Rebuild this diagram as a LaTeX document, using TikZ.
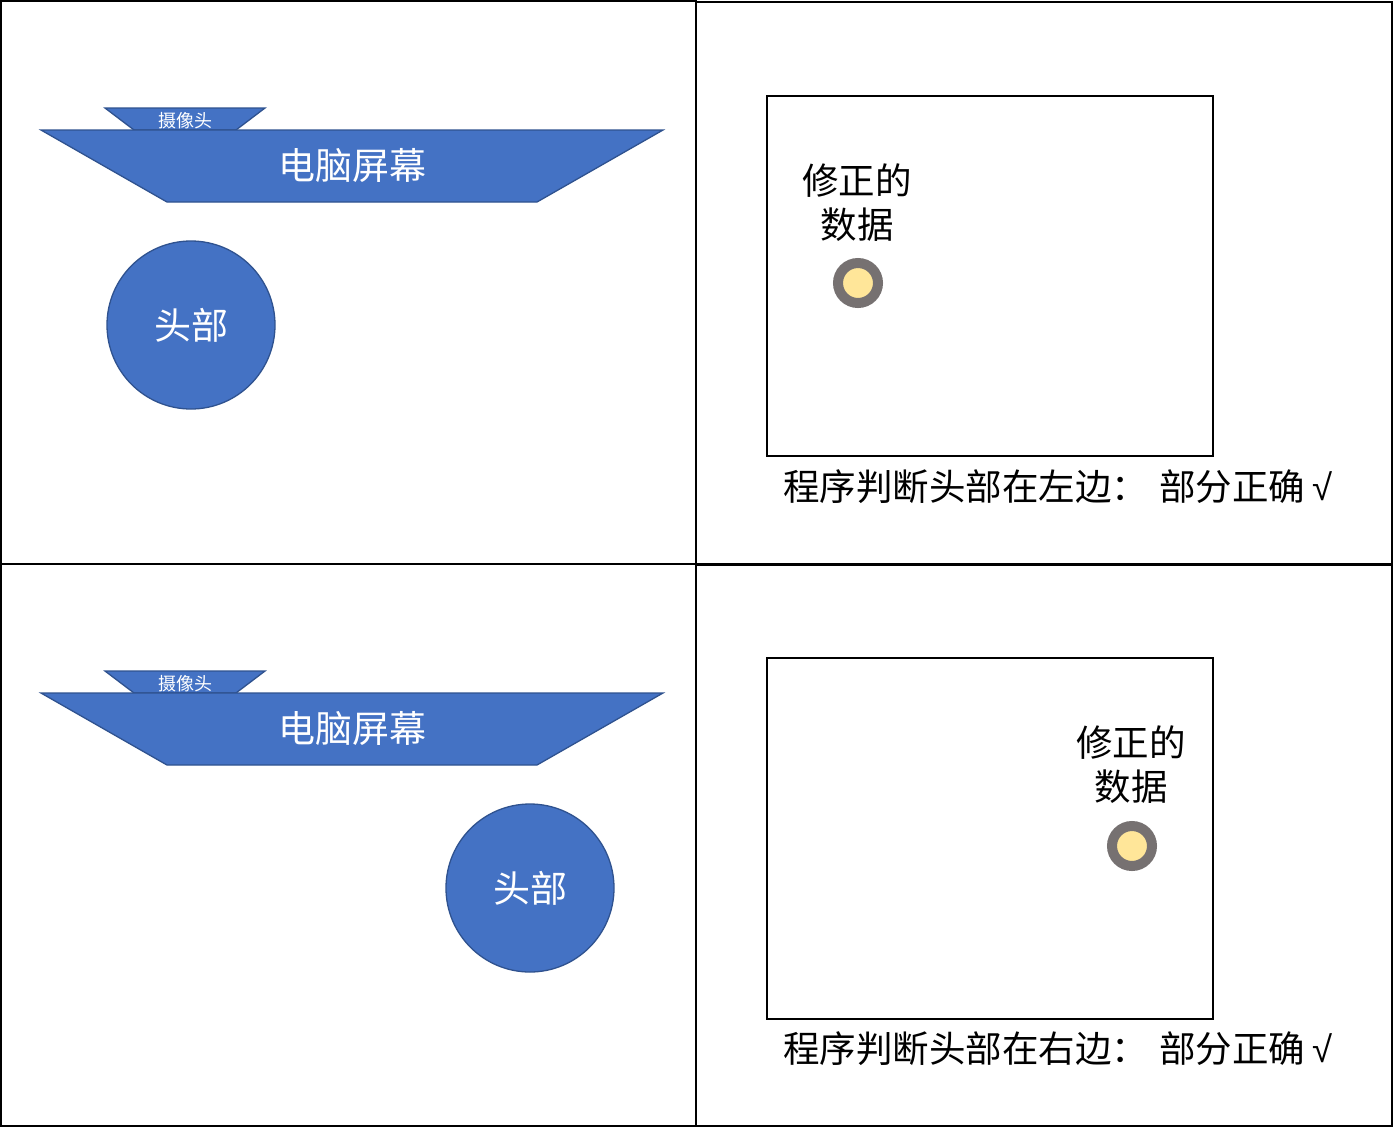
\documentclass[tikz,border=0pt]{standalone}
\usepackage{fontspec}
\setmainfont{Noto Sans CJK SC}
\newfontfamily\symfont{Liberation Sans}
\begin{document}
\begin{tikzpicture}[x=1pt,y=-1pt,
  shapeblue/.style={fill={rgb,255:red,68;green,114;blue,196},draw={rgb,255:red,47;green,82;blue,143},line width=1.3pt},
  bigtxt/.style={text=white,font=\fontsize{37}{40}\selectfont,inner sep=0pt},
  smalltxt/.style={text=white,font=\fontsize{18}{20}\selectfont,inner sep=0pt},
  blacktxt/.style={text=black,font=\fontsize{36.5}{44}\selectfont,inner sep=0pt,align=center},
  frame/.style={draw=black,line width=2pt},
  dotmark/.style={circle,minimum size=40pt,inner sep=0pt,fill={rgb,255:red,255;green,230;blue,153},draw={rgb,255:red,118;green,113;blue,113},line width=10pt}
]
\useasboundingbox (0,0) rectangle (1393,1128);
\fill[white] (0,0) rectangle (1393,1128);
% grid
\draw[frame] (1,1) rectangle (696,564);
\draw[frame] (696,2) rectangle (1392,564);
\draw[frame] (1,564) rectangle (696,1126);
\draw[frame] (696,565) rectangle (1392,1126);

% top-left
\draw[shapeblue] (105,108) -- (265,108) -- (236,130) -- (134,130) -- cycle;
\node[smalltxt] (cam1) at (185,121) {摄像头};
\draw[shapeblue] (41,130) -- (663,130) -- (537,202) -- (167,202) -- cycle;
\node[bigtxt] (scr1) at (352,166) {电脑屏幕};
\node[shapeblue,circle,minimum size=168pt,inner sep=0pt] (head1) at (191,325) {};
\node[bigtxt] (headt1) at (191,325) {头部};

% bottom-left
\draw[shapeblue] (105,671) -- (265,671) -- (236,693) -- (134,693) -- cycle;
\node[smalltxt] (cam2) at (185,684) {摄像头};
\draw[shapeblue] (41,693) -- (663,693) -- (537,765) -- (167,765) -- cycle;
\node[bigtxt] (scr2) at (352,729) {电脑屏幕};
\node[shapeblue,circle,minimum size=168pt,inner sep=0pt] (head2) at (530,888) {};
\node[bigtxt] (headt2) at (530,888) {头部};

% top-right
\draw[frame] (767,96) rectangle (1213,456);
\node[blacktxt] (fix1) at (857,203) {修正的\\数据};
\node[dotmark] (dot1) at (858,283) {};
\node[blacktxt,anchor=west] (res1) at (783,487) {程序判断头部在左边：\hspace{11pt}部分正确\hspace{7pt}{\symfont √}};

% bottom-right
\draw[frame] (767,658) rectangle (1213,1019);
\node[blacktxt] (fix2) at (1131,765) {修正的\\数据};
\node[dotmark] (dot2) at (1132,846) {};
\node[blacktxt,anchor=west] (res2) at (783,1049) {程序判断头部在右边：\hspace{11pt}部分正确\hspace{7pt}{\symfont √}};
\end{tikzpicture}
\end{document}
